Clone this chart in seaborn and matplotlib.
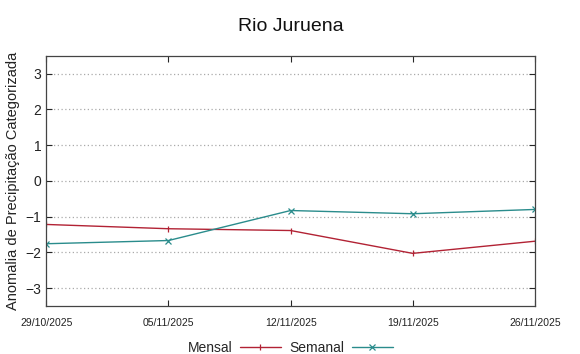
import matplotlib
matplotlib.use("Agg")
import matplotlib.pyplot as plt
import pandas as pd
import seaborn as sns

datas = ["29/10/2025", "05/11/2025", "12/11/2025", "19/11/2025", "26/11/2025"]
mensal = [-1.22, -1.34, -1.39, -2.03, -1.69]
semanal = [-1.76, -1.67, -0.83, -0.92, -0.80]

sns.set_style("ticks")
plt.rcParams["font.family"] = ["Liberation Sans", "DejaVu Sans"]

df = pd.DataFrame({"pos": range(len(datas)), "Mensal": mensal, "Semanal": semanal})

fig, ax = plt.subplots(figsize=(5.8, 3.54), dpi=100)
fig.subplots_adjust(left=0.08, right=0.922, top=0.842, bottom=0.136)

cores = {"Mensal": "#b22234", "Semanal": "#2a8c8c"}
marcadores = {"Mensal": "|", "Semanal": "x"}
for serie in ["Mensal", "Semanal"]:
    sns.lineplot(
        data=df, x="pos", y=serie, color=cores[serie], marker=marcadores[serie],
        markersize=5, markeredgewidth=0.9, markeredgecolor=cores[serie],
        linewidth=1.0, label=serie, ax=ax,
    )

ax.set_xlim(0, len(datas) - 1)
ax.set_ylim(-3.5, 3.5)
ax.set_xticks(range(len(datas)))
ax.set_xticklabels(datas, fontsize=7.5, color="#222222")
ax.set_yticks(range(-3, 4))
ax.tick_params(axis="y", labelsize=10, direction="in", right=True, length=4, labelcolor="#222222")
ax.tick_params(axis="x", direction="in", top=True, length=4, pad=9)
ax.yaxis.grid(True, linestyle=(0, (1, 2)), color="#aaaaaa", linewidth=0.9)
for s in ax.spines.values():
    s.set_visible(True)
    s.set_color("#444444")
    s.set_linewidth(0.9)

ax.set_xlabel("")
ax.set_ylabel("Anomalia de Precipitação Categorizada", fontsize=10.5, color="#222222")
ax.set_title("Rio Juruena", fontsize=14, pad=18, color="#111111")

handles, labels = ax.get_legend_handles_labels()
ax.legend(
    handles, labels, loc="center", bbox_to_anchor=(0.5, -0.168),
    ncol=2, frameon=False, markerfirst=False, fontsize=10,
    handlelength=3.0, columnspacing=0.6, handletextpad=0.5,
)

fig.savefig("out.png", dpi=100)
